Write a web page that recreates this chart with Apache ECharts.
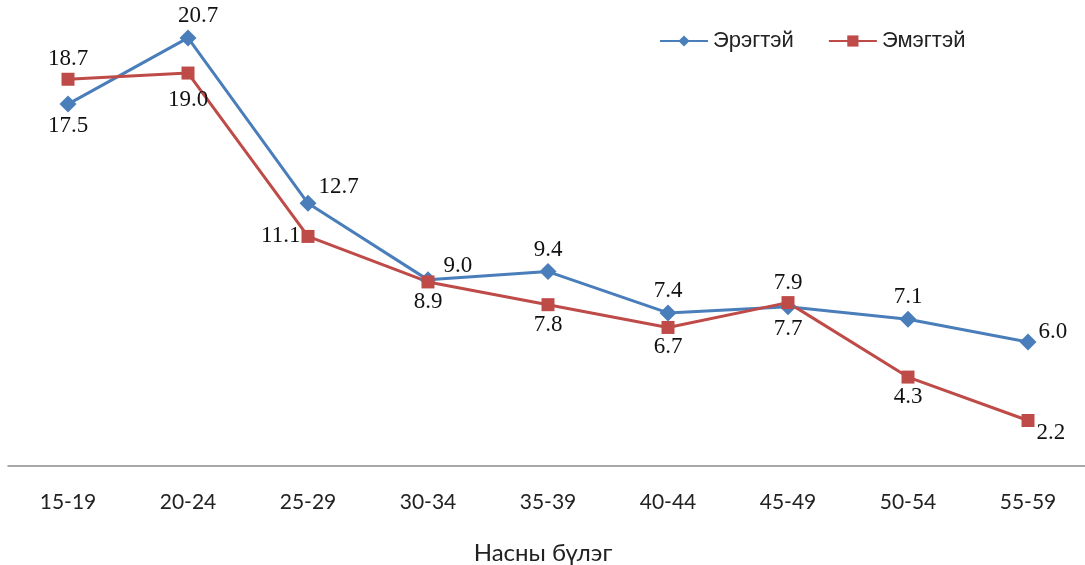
<!DOCTYPE html>
<html>
<head>
<meta charset="utf-8">
<script src="https://cdn.jsdelivr.net/npm/echarts@6/dist/echarts.min.js"></script>
<style>
  html, body { margin: 0; padding: 0; background: #fff; }
  #chart { width: 1085px; height: 565px; }
</style>
</head>
<body>
<div id="chart"></div>
<script>
const ageGroups = ['15-19', '20-24', '25-29', '30-34', '35-39', '40-44', '45-49', '50-54', '55-59']
const maleValues = [17.5, 20.7, 12.7, 9.0, 9.4, 7.4, 7.7, 7.1, 6.0]
const femaleValues = [18.7, 19.0, 11.1, 8.9, 7.8, 6.7, 7.9, 4.3, 2.2]

// label placement per point (picked by eye from the original)
const maleLabelPos = ['bottom', 'top', 'right', 'right', 'top', 'top', 'bottom', 'top', 'right']
const femaleLabelPos = ['top', 'bottom', 'left', 'bottom', 'bottom', 'bottom', 'top', 'bottom', 'right']
const maleOffsets = [[0, 0], [10, 0], [0, -16], [5, -14], [0, 0], [0, 0], [0, 0], [0, 0], [0, -10]]
const femaleOffsets = [[0, 0], [0, 7], [1, 0], [0, 0], [0, 0], [0, 0], [0, 0], [0, 0], [0, 12]]

function withLabels(values, pos, offs) {
  return values.map((v, i) => ({
    value: v,
    label: { position: pos[i], offset: offs[i] }
  }))
}

const labelStyle = {
  show: true,
  fontFamily: 'Liberation Serif',
  fontSize: 23,
  color: '#111',
  distance: 2,
  formatter: p => p.value.toFixed(1)
}

const chart = echarts.init(document.getElementById('chart'))
chart.setOption({
  animation: false,
  grid: { left: 8, right: -3, top: 11, bottom: 99, outerBoundsMode: 'none' },
  legend: {
    top: 25,
    left: 654,
    itemGap: 34,
    itemWidth: 48,
    itemHeight: 14,
    textStyle: { fontFamily: 'Liberation Sans', fontSize: 22, color: '#222' },
    data: ['Эрэгтэй', 'Эмэгтэй']
  },
  xAxis: {
    type: 'category',
    data: ageGroups,
    name: 'Насны бүлэг',
    nameLocation: 'middle',
    nameGap: 75,
    nameTextStyle: { fontFamily: 'Lato', fontSize: 24, color: '#222', padding: [0, 10, 0, 0] },
    axisLine: { lineStyle: { color: '#8c8c8c', width: 1.5 } },
    axisTick: { show: false },
    axisLabel: { fontFamily: 'Lato', fontSize: 21, color: '#222', margin: 26 }
  },
  yAxis: {
    type: 'value',
    min: 0,
    max: 22,
    show: false,
    splitLine: { show: false }
  },
  series: [
    {
      name: 'Эрэгтэй',
      type: 'line',
      data: withLabels(maleValues, maleLabelPos, maleOffsets),
      symbol: 'diamond',
      symbolSize: 17,
      color: '#4a7ebb',
      lineStyle: { color: '#4a7ebb', width: 3 },
      itemStyle: { color: '#4a7ebb' },
      label: labelStyle
    },
    {
      name: 'Эмэгтэй',
      type: 'line',
      data: withLabels(femaleValues, femaleLabelPos, femaleOffsets),
      symbol: 'rect',
      symbolSize: 13,
      color: '#be4b48',
      lineStyle: { color: '#be4b48', width: 3 },
      itemStyle: { color: '#be4b48' },
      label: labelStyle
    }
  ]
})
</script>
</body>
</html>
